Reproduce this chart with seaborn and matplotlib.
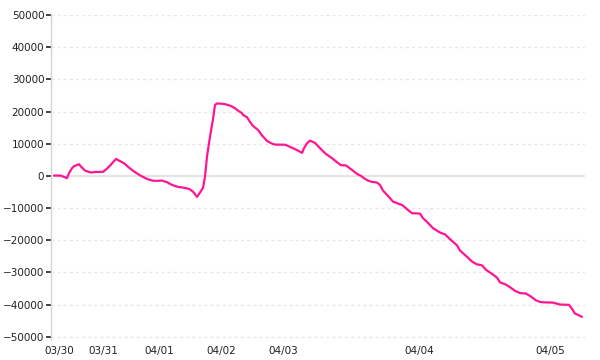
import matplotlib
matplotlib.use("Agg")
import matplotlib.pyplot as plt
import seaborn as sns
import pandas as pd

# observation index along the series
obs = [3, 10, 12, 16, 18, 21, 23, 28, 30, 34, 40, 44, 52, 56, 60, 65, 68, 73, 78, 84,
       90, 96, 101, 106, 111, 116, 121, 127, 132, 138, 142, 146, 149, 152, 154, 156, 159,
       162, 164, 166, 173, 180, 184, 186, 191, 192, 196, 199, 202, 207, 211, 216, 221,
       224, 234, 237, 242, 247, 251, 253, 256, 259, 264, 269, 274, 281, 286, 290, 295,
       301, 306, 310, 314, 317, 321, 326, 329, 332, 336, 339, 342, 347, 351, 356, 361,
       369, 372, 376, 382, 389, 394, 399, 406, 409, 416, 421, 426, 431, 435, 441, 446,
       449, 454, 459, 464, 469, 475, 480, 485, 489, 492, 502, 509, 518, 521, 524, 531]
values = [100, 100, -200, -700, 840, 2390, 3010, 3630, 2890, 1650, 1030, 1240, 1240, 2270,
          3510, 5280, 4750, 3940, 2580, 1150, 0, -930, -1460, -1550, -1460, -1960, -2800,
          -3420, -3630, -4040, -4880, -6520, -5190, -3730, -220, 5990, 12200, 17610, 22050,
          22520, 22360, 21740, 21030, 20500, 19470, 18950, 18230, 16770, 15530, 14290,
          12580, 10870, 10030, 9720, 9690, 9320, 8600, 7860, 7140, 8600, 10160, 10960,
          10250, 8600, 7050, 5500, 4250, 3320, 3260, 1860, 620, 0, -930, -1460, -1860,
          -2080, -2800, -4570, -5900, -6930, -7980, -8600, -9010, -10340, -11590, -11710,
          -13140, -14290, -16240, -17610, -18170, -19660, -21590, -23200, -25160, -26620,
          -27490, -27800, -29200, -30440, -31620, -33080, -33640, -34570, -35720, -36430,
          -36560, -37520, -38670, -39140, -39290, -39380, -39980, -40070, -41310, -42770,
          -43800]

tick_obs = [8, 52, 108, 170, 232, 368, 499]
tick_labels = ["03/30", "03/31", "04/01", "04/02", "04/03", "04/04", "04/05"]
y_ticks = [-50000, -40000, -30000, -20000, -10000, 0, 10000, 20000, 30000, 40000, 50000]

df = pd.DataFrame({"obs": obs, "value": values})

sns.set_theme(style="white")
plt.rcParams["font.family"] = ["DejaVu Sans"]

fig = plt.figure(figsize=(6, 3.6), dpi=100)
ax = fig.add_axes([51 / 600, 1 - 340 / 360, 534 / 600, 325 / 360])

# grid lines
for yv in y_ticks:
    if yv == 0:
        ax.axhline(yv, color="#dcdcdc", lw=1.1, zorder=1)
    else:
        ax.axhline(yv, color="#e8e8e8", lw=1.0, ls=(0, (2.2, 2.2)), zorder=1)

sns.lineplot(data=df, x="obs", y="value", ax=ax, color="#ff1493", lw=1.6, zorder=3)

ax.set_xlim(0, 534)
ax.set_ylim(-51000, 50000)
ax.set_yticks(y_ticks)
ax.set_yticklabels([f"{v}".replace("-", "\u2212") for v in y_ticks])
ax.set_xticks(tick_obs)
ax.set_xticklabels(tick_labels)
ax.set_xlabel("")
ax.set_ylabel("")

for s in ["top", "right", "bottom"]:
    ax.spines[s].set_visible(False)
ax.spines["left"].set_color("#d4d4d4")
ax.spines["left"].set_linewidth(1.0)

ax.tick_params(axis="y", length=3.8, width=1.1, color="#111111", pad=1,
               labelsize=7.5, labelcolor="#222222", left=True)
ax.tick_params(axis="x", length=0, pad=4, labelsize=7.5, labelcolor="#222222")

fig.savefig("out.png", dpi=100)
